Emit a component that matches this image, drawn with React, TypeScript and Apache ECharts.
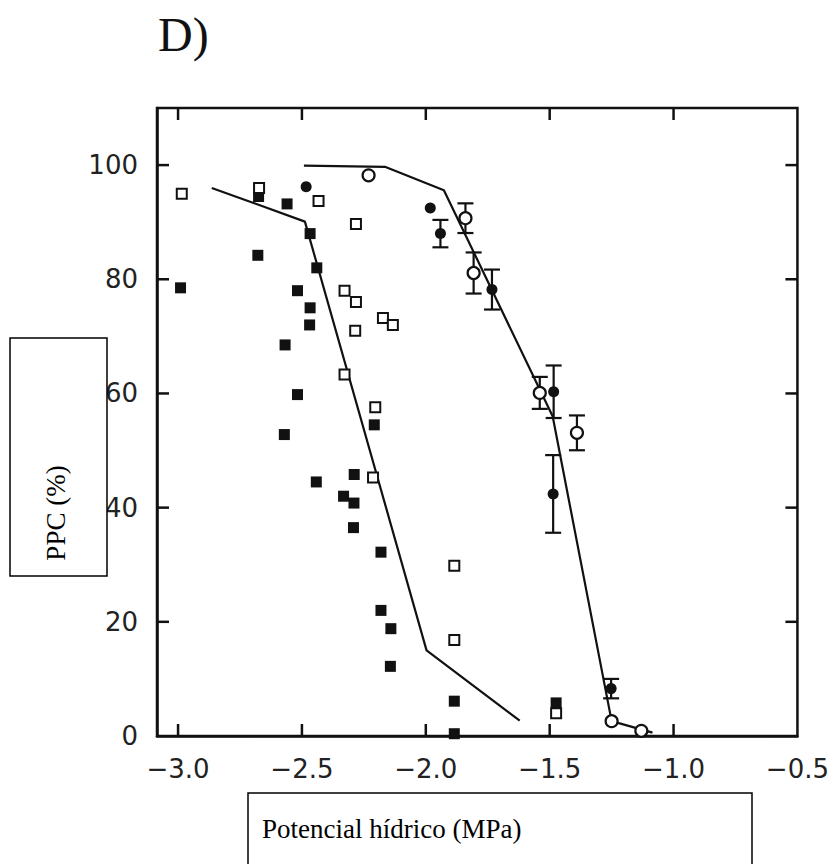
import React, { useEffect, useRef } from "react";
import * as echarts from "echarts";

// Axis ticks
const xTicks = [-3.0, -2.5, -2.0, -1.5, -1.0, -0.5];
const yTicks = [0, 20, 40, 60, 80, 100];
const X_MIN = -3.085;
const X_MAX = -0.5;
const Y_MIN = 0;
const Y_MAX = 110;

// Filled squares [x, y]
const filledSquares: [number, number][] = [
  [-2.99, 78.5], [-2.675, 94.5], [-2.56, 93.2], [-2.467, 88.0], [-2.678, 84.2],
  [-2.44, 82.0], [-2.518, 78.0], [-2.467, 75.0], [-2.469, 72.0], [-2.568, 68.5],
  [-2.518, 59.8], [-2.571, 52.8], [-2.208, 54.5], [-2.442, 44.5], [-2.289, 45.8],
  [-2.332, 42.0], [-2.29, 40.8], [-2.292, 36.5], [-2.181, 32.2], [-2.181, 22.0],
  [-2.141, 18.8], [-2.143, 12.2], [-1.885, 6.1], [-1.885, 0.4], [-1.474, 5.8],
];

// Open squares [x, y]
const openSquares: [number, number][] = [
  [-2.985, 95.0], [-2.673, 96.0], [-2.433, 93.7], [-2.282, 89.7], [-2.328, 78.0],
  [-2.282, 76.0], [-2.285, 71.0], [-2.173, 73.2], [-2.133, 72.0], [-2.328, 63.3],
  [-2.204, 57.6], [-2.213, 45.3], [-1.885, 29.8], [-1.885, 16.8], [-1.474, 4.0],
];

// Filled circles [x, y, error]
const filledCircles: [number, number, number][] = [
  [-2.483, 96.2, 0], [-1.982, 92.5, 0], [-1.941, 88.0, 2.4], [-1.733, 78.2, 3.5],
  [-1.484, 60.3, 4.6], [-1.486, 42.4, 6.8], [-1.252, 8.3, 1.7],
];

// Open circles [x, y, error]
const openCircles: [number, number, number][] = [
  [-2.231, 98.2, 0], [-1.84, 90.7, 2.6], [-1.807, 81.1, 3.6], [-1.54, 60.1, 2.8],
  [-1.39, 53.1, 3.05], [-1.25, 2.6, 0], [-1.13, 0.9, 0],
];

// Fitted broken lines
const fitLineSquares: [number, number][] = [
  [-2.864, 96.0], [-2.488, 90.1], [-1.997, 15.0], [-1.621, 2.7],
];
const fitLineCircles: [number, number][] = [
  [-2.492, 99.9], [-2.165, 99.7], [-1.927, 95.6], [-1.488, 56.0], [-1.25, 2.6], [-1.085, 0.6],
];

const INK = "#111";
const isTick = (v: number, list: number[]) => list.some((t) => Math.abs(t - v) < 1e-6);
const fmt = (v: number) => (v < 0 ? "\u2212" + Math.abs(v).toFixed(1) : v === 0 ? "0" : String(v));

export default function App() {
  const ref = useRef<HTMLDivElement>(null);
  useEffect(() => {
    if (!ref.current) return;
    const chart = echarts.init(ref.current, undefined, { renderer: "svg" });
    const errData = [...filledCircles, ...openCircles].filter((d) => d[2] > 0);
    const axisLineStyle = { color: INK, width: 2.5 };
    const TL = 12;
    const labelStyle = {
      fontFamily: "DejaVu Sans",
      fontSize: 26,
      color: "#222",
    };
    const staticGraphic: any[] = [
      {
        type: "text",
        left: 158,
        top: 10,
        style: { text: "D)", font: "48px 'Liberation Serif'", fill: "#111" },
      },
      {
        type: "rect",
        shape: { x: 10, y: 338, width: 97, height: 238 },
        style: { fill: "#fff", stroke: "#000", lineWidth: 1.5 },
        z: 100,
      },
      {
        type: "text",
        x: 56,
        y: 513,
        rotation: Math.PI / 2,
        style: {
          text: "PPC (%)",
          font: "27px 'Liberation Serif'",
          fill: "#000",
          align: "center",
          verticalAlign: "middle",
        },
        z: 101,
      },
      {
        type: "rect",
        shape: { x: 248, y: 793, width: 504, height: 90 },
        style: { fill: "#fff", stroke: "#000", lineWidth: 1.5 },
        z: 100,
      },
      {
        type: "text",
        x: 262,
        y: 829,
        style: {
          text: "Potencial hídrico (MPa)",
          font: "27px 'Liberation Serif'",
          fill: "#000",
          align: "left",
          verticalAlign: "middle",
        },
        z: 101,
      },
    ];
    chart.setOption({
      animation: false,
      backgroundColor: "#fff",
      grid: { left: 157, top: 108, right: 34, bottom: 128, containLabel: false, show: true, borderColor: INK, borderWidth: 2.5 },
      xAxis: {
        type: "value",
        min: X_MIN,
        max: X_MAX,
        minInterval: 0.5,
        maxInterval: 0.5,
        splitLine: { show: false },
        axisLine: { show: true, onZero: false, lineStyle: axisLineStyle },
        axisTick: { show: false },
        axisLabel: {
          show: true,
          showMinLabel: false,
          formatter: (v: number) => (isTick(v, xTicks) ? fmt(v) : ""),
          margin: 20,
          ...labelStyle,
        },
      },
      yAxis: {
        type: "value",
        min: Y_MIN,
        max: Y_MAX,
        interval: 20,
        splitLine: { show: false },
        axisLine: { show: true, onZero: false, lineStyle: axisLineStyle },
        axisTick: { show: false },
        axisLabel: {
          show: true,
          showMaxLabel: false,
          formatter: (v: number) => (isTick(v, yTicks) ? fmt(v) : ""),
          margin: 19,
          ...labelStyle,
        },
      },
      series: [
        {
          type: "line",
          data: fitLineSquares,
          symbol: "none",
          lineStyle: { color: INK, width: 2.2 },
        },
        {
          type: "line",
          data: fitLineCircles,
          symbol: "none",
          lineStyle: { color: INK, width: 2.2 },
        },
        {
          type: "custom",
          data: errData,
          renderItem: (_p: any, api: any) => {
            const x = api.value(0);
            const y = api.value(1);
            const e = api.value(2);
            const top = api.coord([x, y + e]);
            const bot = api.coord([x, y - e]);
            const w = 8;
            return {
              type: "group",
              children: [
                { type: "line", shape: { x1: top[0], y1: top[1], x2: bot[0], y2: bot[1] }, style: { stroke: INK, lineWidth: 2.2 } },
                { type: "line", shape: { x1: top[0] - w, y1: top[1], x2: top[0] + w, y2: top[1] }, style: { stroke: INK, lineWidth: 2.2 } },
                { type: "line", shape: { x1: bot[0] - w, y1: bot[1], x2: bot[0] + w, y2: bot[1] }, style: { stroke: INK, lineWidth: 2.2 } },
              ],
            };
          },
        },
        {
          type: "scatter",
          data: filledSquares,
          symbol: "rect",
          symbolSize: 11,
          itemStyle: { color: INK, opacity: 1 },
          z: 4,
        },
        {
          type: "scatter",
          data: openSquares,
          symbol: "rect",
          symbolSize: 10,
          itemStyle: { color: "#fff", borderColor: INK, borderWidth: 2, opacity: 1 },
          z: 5,
        },
        {
          type: "scatter",
          data: filledCircles.map((d) => [d[0], d[1]]),
          symbol: "circle",
          symbolSize: 11,
          itemStyle: { color: INK, opacity: 1 },
          z: 4,
        },
        {
          type: "scatter",
          data: openCircles.map((d) => [d[0], d[1]]),
          symbol: "circle",
          symbolSize: 12,
          itemStyle: { color: "#fff", borderColor: INK, borderWidth: 2.2, opacity: 1 },
          z: 5,
        },
      ],
      graphic: staticGraphic,
    });

    // Inward tick marks on all four sides, positioned through the chart's own scales
    const tickEls: any[] = [];
    xTicks.slice(0, 5).forEach((v) => {
      const b = chart.convertToPixel({ gridIndex: 0 }, [v, Y_MIN]) as number[];
      const t = chart.convertToPixel({ gridIndex: 0 }, [v, Y_MAX]) as number[];
      tickEls.push({
        type: "line",
        shape: { x1: b[0], y1: b[1], x2: b[0], y2: b[1] - TL },
        style: { stroke: INK, lineWidth: 2.5 },
        z: 50,
      });
      tickEls.push({
        type: "line",
        shape: { x1: t[0], y1: t[1], x2: t[0], y2: t[1] + TL },
        style: { stroke: INK, lineWidth: 2.5 },
        z: 50,
      });
    });
    yTicks.slice(1).forEach((v) => {
      const l = chart.convertToPixel({ gridIndex: 0 }, [X_MIN, v]) as number[];
      const r = chart.convertToPixel({ gridIndex: 0 }, [X_MAX, v]) as number[];
      tickEls.push({
        type: "line",
        shape: { x1: l[0], y1: l[1], x2: l[0] + TL, y2: l[1] },
        style: { stroke: INK, lineWidth: 2.5 },
        z: 50,
      });
      tickEls.push({
        type: "line",
        shape: { x1: r[0], y1: r[1], x2: r[0] - TL, y2: r[1] },
        style: { stroke: INK, lineWidth: 2.5 },
        z: 50,
      });
    });
    chart.setOption({ graphic: [...staticGraphic, ...tickEls] });

    return () => chart.dispose();
  }, []);
  return (
    <div
      ref={ref}
      style={{ position: "fixed", left: 0, top: 0, width: 832, height: 864 }}
    />
  );
}
